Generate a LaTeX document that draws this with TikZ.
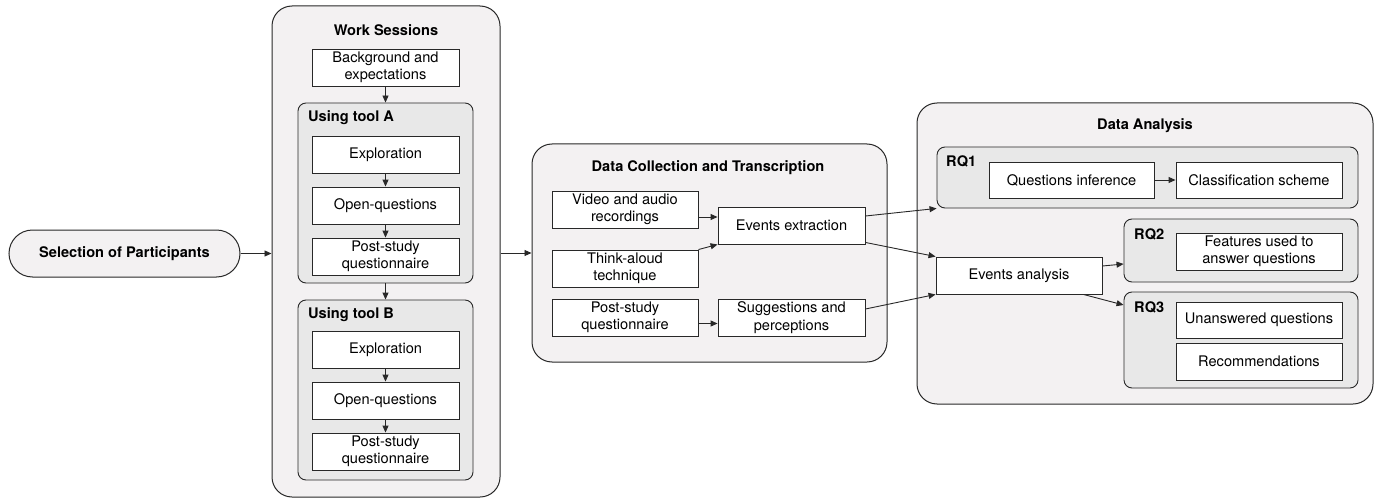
\documentclass[tikz,border=0pt]{standalone}
\usepackage{fontspec}
\setmainfont{TeX Gyre Heros}
\usetikzlibrary{arrows.meta,calc}
\definecolor{outerfill}{RGB}{243,241,242}
\definecolor{innerfill}{RGB}{232,232,232}
\definecolor{edge}{RGB}{40,40,40}
\tikzset{
  outerbox/.style={draw=edge,line width=1pt,fill=outerfill,rounded corners=20pt,inner sep=0pt},
  groupbox/.style={draw=edge,line width=0.9pt,fill=innerfill,rounded corners=8pt,inner sep=0pt},
  stepbox/.style={draw=edge,line width=0.9pt,fill=white,inner sep=0pt,align=center,
     font=\fontsize{14.6}{17.5}\selectfont,minimum height=37pt},
  titlelbl/.style={font=\fontsize{14.6}{17.5}\selectfont\bfseries,inner sep=0pt},
  grouplbl/.style={font=\fontsize{14.6}{17.5}\selectfont\bfseries,inner sep=0pt,anchor=west},
  arr/.style={-{Triangle[length=7pt,width=6pt]},line width=0.9pt,draw=edge},
}
\begin{document}
\begin{tikzpicture}[x=1pt,y=-1pt]
\useasboundingbox (0,0) rectangle (1376,500);
% Selection
\node[draw=edge,line width=1pt,fill=outerfill,rounded corners=23.5pt,minimum width=231pt,minimum height=47pt,inner sep=0pt,titlelbl] (sel) at (124.5,253.5) {Selection of Participants};
% Work sessions
\node[outerbox,minimum width=228pt,minimum height=491pt] (ws) at (386,251.5) {};
\node[titlelbl] (wst) at (386,30) {Work Sessions};
\node[stepbox,minimum width=147pt] (bg) at (385.5,67.5) {Background and\\expectations};
\node[groupbox,minimum width=175pt,minimum height=180pt] (ta) at (385.5,193) {};
\node[grouplbl] (tal) at (308,118) {Using tool A};
\node[stepbox,minimum width=147pt] (ea1) at (385.5,154.5) {Exploration};
\node[stepbox,minimum width=147pt] (oa1) at (385.5,205.5) {Open-questions};
\node[stepbox,minimum width=147pt] (pa1) at (385.5,256.5) {Post-study\\questionnaire};
\node[groupbox,minimum width=175pt,minimum height=180pt] (tb) at (385.5,390) {};
\node[grouplbl] (tbl) at (308,315) {Using tool B};
\node[stepbox,minimum width=147pt] (eb1) at (385.5,349.5) {Exploration};
\node[stepbox,minimum width=147pt] (ob1) at (385.5,400.5) {Open-questions};
\node[stepbox,minimum width=147pt] (pb1) at (385.5,451.5) {Post-study\\questionnaire};
% Data collection
\node[outerbox,minimum width=355pt,minimum height=218pt] (dc) at (709.5,253) {};
\node[titlelbl] (dct) at (708,168) {Data Collection and Transcription};
\node[stepbox,minimum width=146pt] (vid) at (625,209.5) {Video and audio\\recordings};
\node[stepbox,minimum width=146pt] (tha) at (625,268.5) {Think-aloud\\technique};
\node[stepbox,minimum width=146pt] (pdc) at (625,317.5) {Post-study\\questionnaire};
\node[stepbox,minimum width=147pt] (ee) at (791.5,225.5) {Events extraction};
\node[stepbox,minimum width=147pt] (sug) at (791.5,317.5) {Suggestions and\\perceptions};
% Data analysis
\node[outerbox,minimum width=456pt,minimum height=301pt] (da) at (1145,253.5) {};
\node[titlelbl] (dat) at (1145,126) {Data Analysis};
\node[groupbox,minimum width=421pt,minimum height=61pt] (rq1) at (1147.5,177.5) {};
\node[grouplbl] (rq1l) at (946,161) {RQ1};
\node[stepbox,minimum width=165pt,minimum height=36pt] (qi) at (1071.5,180) {Questions inference};
\node[stepbox,minimum width=166pt,minimum height=36pt] (cs) at (1259,180) {Classification scheme};
\node[groupbox,minimum width=234pt,minimum height=63pt] (rq2) at (1241,250.5) {};
\node[grouplbl] (rq2l) at (1134,234) {RQ2};
\node[stepbox,minimum width=166pt] (fu) at (1259,251.5) {Features used to\\answer questions};
\node[groupbox,minimum width=234pt,minimum height=96pt] (rq3) at (1241,340) {};
\node[grouplbl] (rq3l) at (1134,307) {RQ3};
\node[stepbox,minimum width=166pt,minimum height=36pt] (uq) at (1259,320) {Unanswered questions};
\node[stepbox,minimum width=166pt] (rec) at (1259,361.5) {Recommendations};
\node[stepbox,minimum width=166pt] (ean) at (1019,275.5) {Events analysis};
% arrows
\draw[arr] (sel.east) -- (sel.east -| ws.west);
\draw[arr] (bg) -- (ta);
\draw[arr] (ea1) -- (oa1);
\draw[arr] (oa1) -- (pa1);
\draw[arr] (ta) -- (tb);
\draw[arr] (eb1) -- (ob1);
\draw[arr] (ob1) -- (pb1);
\draw[arr] (dc.west -| ws.east) -- (dc.west);
\draw[arr] ([yshift=-7.5pt]vid.east) -- ([yshift=-7.5pt]vid.east -| ee.west);
\draw[arr] (tha.north east) -- (ee.south west);
\draw[arr] ([yshift=-6pt]pdc.east) -- ([yshift=-6pt]pdc.east -| sug.west);
\draw[arr] ([yshift=9.5pt]ee.east) -- (rq1.south west);
\draw[arr] ([yshift=2pt]ee.south east) -- (ean.north west);
\draw[arr] ([yshift=8.5pt]sug.east) -- (ean.south west);
\draw[arr] (qi) -- (cs);
\draw[arr] ([yshift=9.5pt]ean.east) -- ([yshift=-13.5pt]rq2.west);
\draw[arr] ([xshift=-19pt]ean.south east) -- ([yshift=35pt]rq3.west);
\end{tikzpicture}
\end{document}
